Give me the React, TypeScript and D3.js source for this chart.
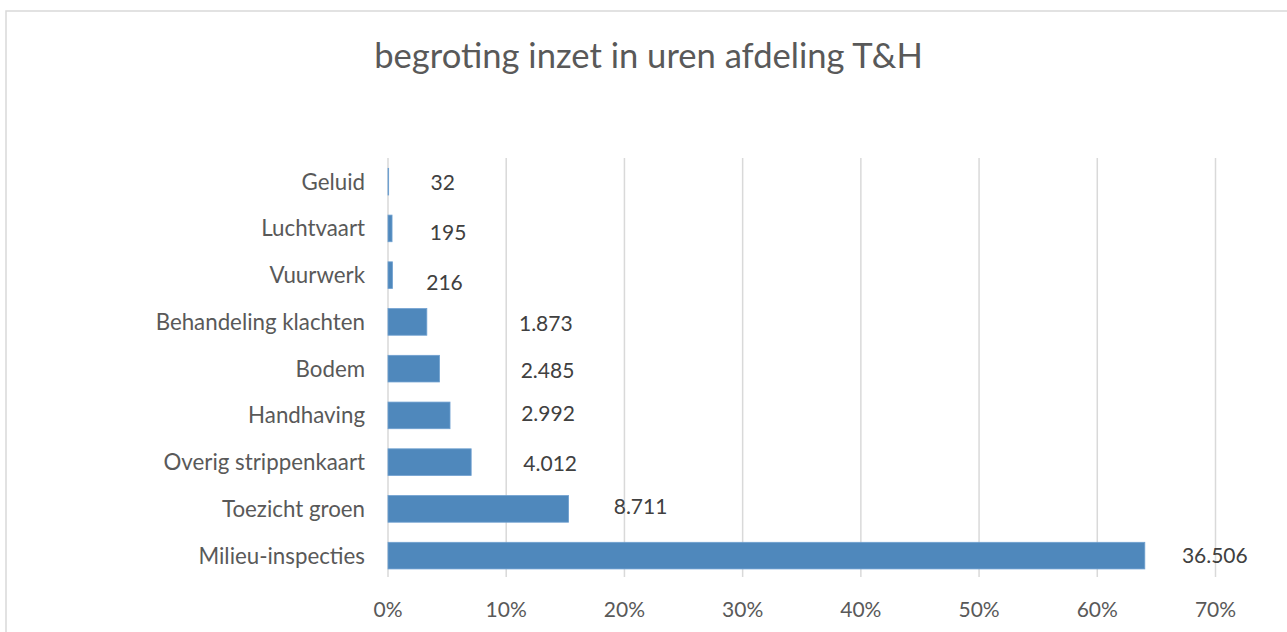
import * as d3 from "d3";

const categories = [
  "Geluid",
  "Luchtvaart",
  "Vuurwerk",
  "Behandeling klachten",
  "Bodem",
  "Handhaving",
  "Overig strippenkaart",
  "Toezicht groen",
  "Milieu-inspecties",
];
const hours = [32, 195, 216, 1873, 2485, 2992, 4012, 8711, 36506];
const xTicks = [0, 0.1, 0.2, 0.3, 0.4, 0.5, 0.6, 0.7];

// the data labels were dragged around by hand in the original
const labelDx = [54, 56, 52, 119, 108, 98, 79, 72, 70];
const labelDy = [1, 4, 7, 2, 2, -2, 1, -2, 0];

const W = 1287;
const H = 632;
const font = "Lato, 'Open Sans', sans-serif";
const textColor = "#595959";

const nl = d3.formatLocale({ decimal: ",", thousands: ".", grouping: [3], currency: ["€", ""] });
const fmtHours = nl.format(",d");
const fmtPct = d3.format(".0%");

export default function App() {
  const total = d3.sum(hours);
  const shares = hours.map((h) => h / total);

  const x = d3.scaleLinear().domain([0, 0.7]).range([388, 1215.5]);
  const y = d3.scaleBand().domain(categories).range([158.3, 579]).paddingInner(0.43).paddingOuter(0.215);

  return (
    <div style={{ position: "fixed", left: 0, top: 0 }}>
      <svg width={W} height={H} style={{ display: "block", background: "#fff" }} fontFamily={font}>
        {/* chart frame */}
        <rect x={6} y={11} width={W + 20} height={H + 20} fill="#fff" stroke="#d9d9d9" strokeWidth={1.5} />

        <text x={648.5} y={68} textAnchor="middle" fontSize={34.6} fill={textColor}>
          begroting inzet in uren afdeling T&amp;H
        </text>

        {/* gridlines */}
        {xTicks.map((t) => (
          <line key={t} x1={x(t)} x2={x(t)} y1={158} y2={577} stroke="#d9d9d9" strokeWidth={1.5} />
        ))}

        {/* bars */}
        {categories.map((c, i) => (
          <rect
            key={c}
            x={x(0)}
            y={y(c)}
            width={x(shares[i]) - x(0)}
            height={y.bandwidth()}
            fill="#4f88bc"
            stroke="#6fa0d0"
            strokeWidth={0.8}
          />
        ))}

        {/* category axis labels */}
        {categories.map((c) => (
          <text key={c} x={365} y={y(c)! + y.bandwidth() / 2} dy="0.36em" textAnchor="end" fontSize={22.3} fill={textColor}>
            {c}
          </text>
        ))}

        {/* data labels */}
        {categories.map((c, i) => (
          <text
            key={c}
            x={x(shares[i]) + labelDx[i]}
            y={y(c)! + y.bandwidth() / 2 + labelDy[i]}
            dy="0.36em"
            textAnchor="middle"
            fontSize={21}
            fill="#404040"
          >
            {fmtHours(hours[i])}
          </text>
        ))}

        {/* value axis labels */}
        {xTicks.map((t) => (
          <text key={t} x={x(t)} y={609} dy="0.36em" textAnchor="middle" fontSize={21} fill={textColor}>
            {fmtPct(t)}
          </text>
        ))}
      </svg>
    </div>
  );
}
